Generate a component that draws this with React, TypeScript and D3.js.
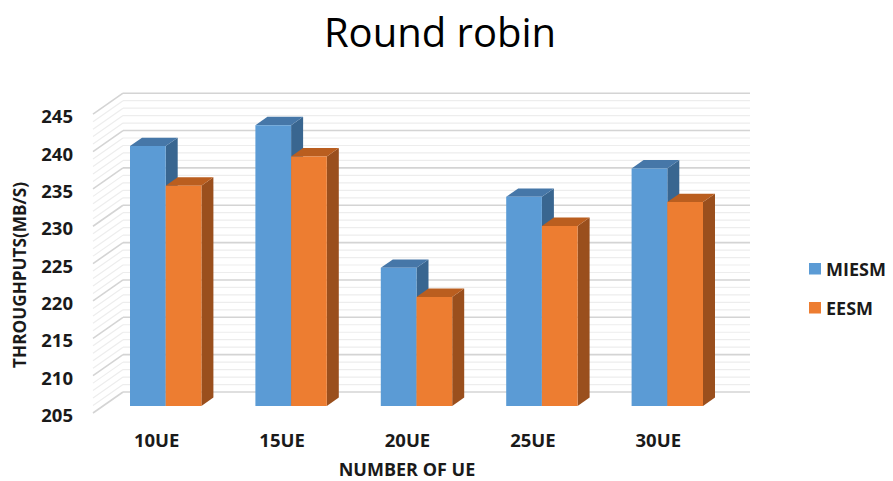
import React from "react";
import * as d3 from "d3";

const categories = ["10UE", "15UE", "20UE", "25UE", "30UE"];
const seriesNames = ["MIESM", "EESM"];
const miesm = [239.8, 242.6, 223.5, 233.0, 236.8];
const eesm = [234.5, 238.4, 219.6, 229.1, 232.3];
const yTicks = [205, 210, 215, 220, 225, 230, 235, 240, 245];

const W = 893;
const H = 481;
const FONT = "'Open Sans', 'Liberation Sans', sans-serif";

const frontColors = ["#5B9BD5", "#ED7D31"];
const topColors = ["#4677A8", "#BA5E1F"];
const sideColors = ["#396690", "#9A4F1D"];

export default function App() {
  // front plane geometry
  const x = d3.scaleBand<string>().domain(categories).range([93, 720]).paddingInner(0).paddingOuter(0);
  const y = d3.scaleLinear().domain([205, 245]).range([413, 114.2]);
  const DX = 30; // full depth offset
  const DY = -21;
  const proj = (px: number, v: number, z: number): [number, number] => [px + DX * z, y(v) + DY * z];

  const barW = 35.7;
  const sub = d3.scaleBand<string>().domain(seriesNames).range([-barW, barW]);
  const z0 = 1 / 3;
  const z1 = z0 + 0.4;

  const minor = d3.range(205, 246, 1);
  const data = [miesm, eesm];

  const pts = (arr: [number, number][]) => arr.map((p) => p.join(",")).join(" ");

  const bars: React.ReactNode[] = [];
  categories.forEach((c, i) => {
    const cx = (x(c) as number) + x.bandwidth() / 2;
    seriesNames.forEach((s, j) => {
      const v = data[j][i];
      const xl = cx + (sub(s) as number);
      const xr = xl + sub.bandwidth();
      const front = [proj(xl, 205, z0), proj(xr, 205, z0), proj(xr, v, z0), proj(xl, v, z0)] as [number, number][];
      const top = [proj(xl, v, z0), proj(xr, v, z0), proj(xr, v, z1), proj(xl, v, z1)] as [number, number][];
      const side = [proj(xr, 205, z0), proj(xr, 205, z1), proj(xr, v, z1), proj(xr, v, z0)] as [number, number][];
      bars.push(
        <g key={`${c}-${s}`}>
          <polygon points={pts(side)} fill={sideColors[j]} />
          <polygon points={pts(top)} fill={topColors[j]} />
          <polygon points={pts(front)} fill={frontColors[j]} />
        </g>
      );
    });
  });

  const x0 = x.range()[0];
  const x1 = x.range()[1];

  return (
    <svg width={W} height={H} style={{ display: "block", position: "absolute", left: 0, top: 0, background: "#fff" }}>
      <rect x={0} y={0} width={W} height={H} fill="#fff" />
      {/* title */}
      <text x={440} y={47} textAnchor="middle" fontFamily={FONT} fontSize={40} fill="#000">
        Round robin
      </text>
      {/* walls gridlines */}
      <g>
        {minor.map((v) => {
          const major = v % 5 === 0;
          const [bx0, by] = proj(x0, v, 1);
          const [bx1] = proj(x1, v, 1);
          const [fx, fy] = proj(x0, v, 0);
          const col = major ? "#d4d4d4" : "#ededed";
          const sw = major ? 1.6 : 1.2;
          return (
            <g key={v}>
              <line x1={bx0} y1={by} x2={bx1} y2={by} stroke={col} strokeWidth={sw} />
              <line x1={fx} y1={fy} x2={bx0} y2={by} stroke={col} strokeWidth={sw} />
            </g>
          );
        })}
      </g>
      {bars}
      {/* y tick labels */}
      {yTicks.map((t) => (
        <text key={t} x={73} y={y(t) + 1.5} textAnchor="end" dominantBaseline="central" fontFamily={FONT} fontWeight={700} fontSize={18.5} fill="#1a1a1a">
          {t}
        </text>
      ))}
      {/* x tick labels */}
      {categories.map((c) => (
        <text key={c} x={(x(c) as number) + x.bandwidth() / 2 + 1} y={439} textAnchor="middle" dominantBaseline="central" fontFamily={FONT} fontWeight={700} fontSize={18.5} fill="#1a1a1a">
          {c}
        </text>
      ))}
      {/* axis titles */}
      <text x={407} y={475.5} textAnchor="middle" fontFamily={FONT} fontWeight={700} fontSize={18} fill="#1a1a1a">
        NUMBER OF UE
      </text>
      <text transform="translate(19,275) rotate(-90)" textAnchor="middle" dominantBaseline="central" fontFamily={FONT} fontWeight={700} fontSize={17.2} fill="#1a1a1a">
        THROUGHPUTS(MB/S)
      </text>
      {/* legend */}
      {seriesNames.map((s, j) => (
        <g key={s} transform={`translate(809, ${263 + j * 39})`}>
          <rect x={0} y={0} width={12} height={11.5} fill={frontColors[j]} />
          <text x={17} y={6} dominantBaseline="central" fontFamily={FONT} fontWeight={700} fontSize={18} fill="#1a1a1a">
            {s}
          </text>
        </g>
      ))}
    </svg>
  );
}
